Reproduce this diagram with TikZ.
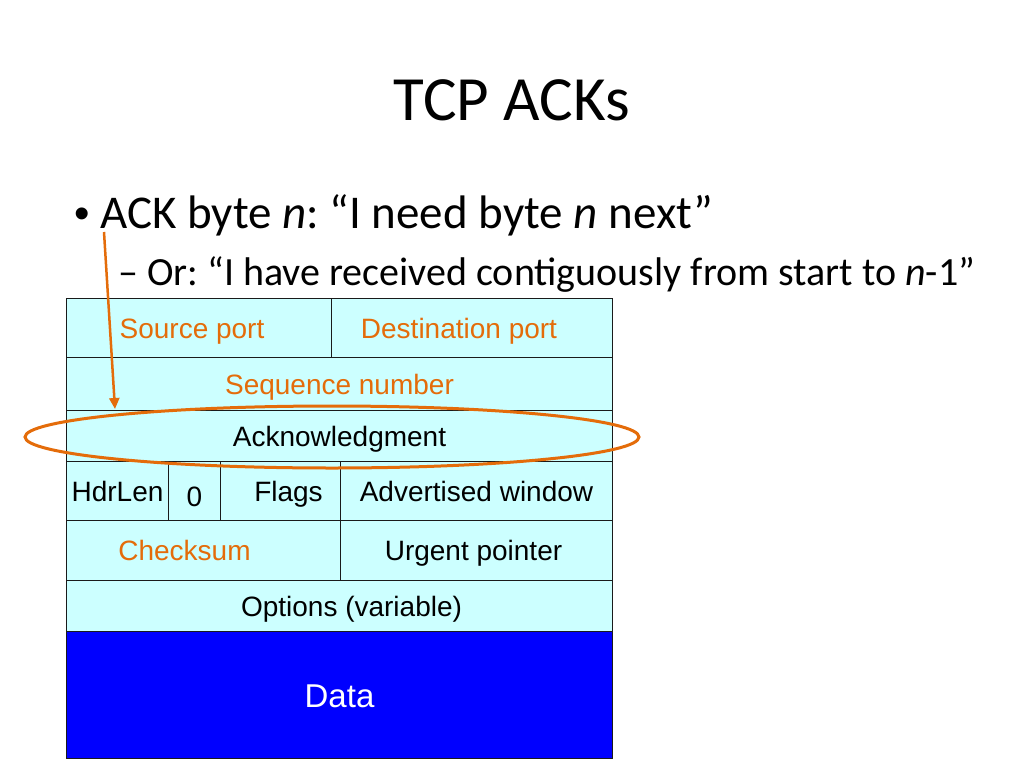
\documentclass[tikz,border=0pt]{standalone}
\usepackage{fontspec}
\setmainfont{Carlito}
\newfontfamily\tablefont{Liberation Sans}
\frenchspacing
\usetikzlibrary{arrows.meta,positioning,shapes.geometric}
\definecolor{ink}{HTML}{000000}
\definecolor{rule}{HTML}{1A1A1A}
\definecolor{cellfill}{HTML}{CCFFFF}
\definecolor{datafill}{HTML}{0000FF}
\definecolor{accent}{HTML}{E46C0A}
\tikzset{
  cell/.style={draw=rule,fill=cellfill,line width=1pt,anchor=north west,inner sep=0pt,text height=20pt,text depth=0pt,text=ink,font=\tablefont\fontsize{28}{30}\selectfont},
  hot cell/.style={cell,text=accent},
  data cell/.style={cell,fill=datafill,text=white,text height=24pt,font=\tablefont\fontsize{33}{36}\selectfont},
  slide text/.style={anchor=base west,inner sep=0pt,text=ink},
  marker/.style={ellipse,draw=accent,line width=3pt,inner sep=0pt},
  pointer/.style={-{Triangle[length=11pt,width=10pt]},draw=accent,line width=2.5pt}
}

\begin{document}
\begin{tikzpicture}[x=1pt,y=-1pt]
  \useasboundingbox[fill=white] (0,0) rectangle (1024,768);

  \node[anchor=base,inner sep=0pt,font=\fontsize{63}{70}\selectfont] (title) at (512,120) {TCP ACKs};

  \node[slide text,font=\tablefont\fontsize{44}{50}\selectfont] (bullet) at (74,228) {\textbullet};
  \node[slide text,font=\fontsize{47}{52}\selectfont] (ackline) at (100,228)
    {ACK byte \textit{n}: “I need byte \textit{n} next”};
  \node[slide text,font=\fontsize{40}{46}\selectfont] (orline) at (118,285)
    {– Or: “I have received contiguously from start to \textit{n}-1”};

  % header rows
  \node[hot cell,minimum width=265pt,minimum height=59pt] (srcport) at (66,298) {\hspace*{-14pt}Source port};
  \node[hot cell,minimum width=281pt,minimum height=59pt] (dstport) at (331,298) {\hspace*{-26pt}Destination port};
  \node[hot cell,minimum width=546pt,minimum height=53pt] (seqnum) at (66,357) {Sequence number};
  \node[cell,minimum width=546pt,minimum height=51pt] (acknum) at (66,410) {Acknowledgment};
  \node[cell,minimum width=102pt,minimum height=59pt] (hdrlen) at (66,461) {HdrLen};
  \node[cell,minimum width=52pt,minimum height=59pt] (zero) at (168,461) {\raisebox{-5pt}{0}};
  \node[cell,minimum width=120pt,minimum height=59pt] (flags) at (220,461) {\hspace*{16pt}Flags};
  \node[cell,minimum width=272pt,minimum height=59pt] (window) at (340,461) {Advertised window};
  \node[hot cell,minimum width=274pt,minimum height=60pt] (checksum) at (66,520) {\hspace*{-38pt}Checksum};
  \node[cell,minimum width=272pt,minimum height=60pt] (urgent) at (340,520) {\hspace*{-6pt}Urgent pointer};
  \node[cell,minimum width=546pt,minimum height=51pt] (options) at (66,580) {\hspace*{24pt}Options (variable)};
  \node[data cell,minimum width=546pt,minimum height=127pt] (data) at (66,631) {Data};

  % highlight of the ack field
  \node[marker,minimum width=614pt,minimum height=62pt] (ring) at (332,437) {};
  \coordinate (tail) at (104,232);
  \coordinate (head) at (115,409);
  \draw[pointer] (tail) -- (head);
\end{tikzpicture}
\end{document}
